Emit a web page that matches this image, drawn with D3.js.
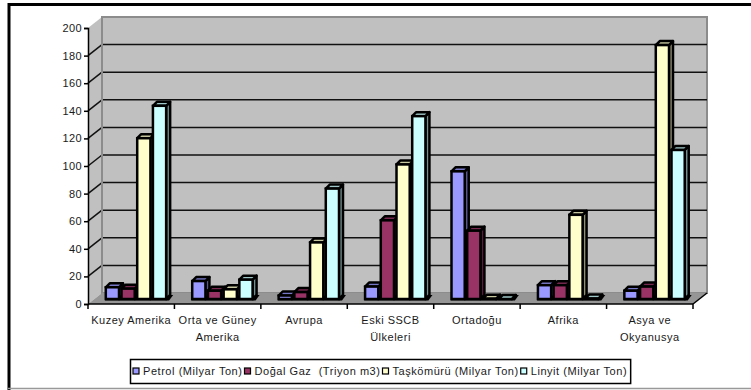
<!DOCTYPE html>
<html>
<head>
<meta charset="utf-8">
<script src="https://cdn.jsdelivr.net/npm/d3@7"></script>
<style>
  body { margin: 0; background: #fff; }
  text { font-family: "Liberation Sans", Arial, sans-serif; fill: #1a1a1a; }
</style>
</head>
<body>
<div id="chart"></div>
<script>
// categories and series
var categories = ["Kuzey Amerika", "Orta ve Güney\nAmerika", "Avrupa", "Eski SSCB\nÜlkeleri", "Ortadoğu", "Afrika", "Asya ve\nOkyanusya"];
var seriesNames = ["Petrol (Milyar Ton)", "Doğal Gaz  (Triyon m3)", "Taşkömürü (Milyar Ton)", "Linyit (Milyar Ton)"];
var petrol    = [8.5, 13, 2.5, 9, 92.5, 10, 6];
var dogalGaz  = [7.5, 6, 5, 57, 49.5, 10, 9];
var taskomuru = [116.5, 7, 41, 97.5, 0.2, 61, 184];
var linyit    = [140, 14, 80, 132.5, 0, 0.3, 108];
var yTicks = [0, 20, 40, 60, 80, 100, 120, 140, 160, 180, 200];

var colors = ["#9999FF", "#993366", "#FFFFCC", "#CCFFFF"];
var allSeries = [petrol, dogalGaz, taskomuru, linyit];

var W = 751, H = 390;
var plotL = 88, plotR = 693, baseY = 304, topY = 28;
var wdx = 14, wdy = -11;      // depth of the back wall
var bdx0 = 6, bdy0 = -5;      // where the bar fronts sit
var bdx = 4, bdy = -4;        // bar depth

var svg = d3.select("#chart").append("svg")
    .attr("width", W)
    .attr("height", H);

// frame
svg.append("line").attr("x1", 8).attr("x2", W).attr("y1", 4.5).attr("y2", 4.5)
    .attr("stroke", "#000").attr("stroke-width", 3);
svg.append("line").attr("x1", 9).attr("x2", 9).attr("y1", 3).attr("y2", H)
    .attr("stroke", "#000").attr("stroke-width", 3);
svg.append("line").attr("x1", 8).attr("x2", W).attr("y1", 388.5).attr("y2", 388.5)
    .attr("stroke", "#999").attr("stroke-width", 1.5);

var x = d3.scaleBand().domain(categories).range([plotL, plotR]);
var xs = d3.scaleBand().domain(seriesNames).range([0, x.bandwidth()])
    .paddingInner(0).paddingOuter(0.75);
var y = d3.scaleLinear().domain([0, 200]).range([baseY, topY]);

// side wall, back wall and floor
svg.append("polygon")
    .attr("points", [[plotL, baseY], [plotL, topY], [plotL + wdx, topY + wdy], [plotL + wdx, baseY + wdy]].join(" "))
    .attr("fill", "#c0c0c0");
svg.append("rect")
    .attr("x", plotL + wdx).attr("y", topY + wdy)
    .attr("width", plotR - plotL).attr("height", baseY - topY)
    .attr("fill", "#c0c0c0").attr("stroke", "#8c8c8c").attr("stroke-width", 2);
svg.append("polygon")
    .attr("points", [[plotL, baseY], [plotL + wdx, baseY + wdy], [plotR + wdx, baseY + wdy], [plotR, baseY]].join(" "))
    .attr("fill", "#969696");

// gridlines
var grid = yTicks.filter(function(d) { return d > 0 && d < 200; });
svg.selectAll(".grid").data(grid).enter().append("line")
    .attr("x1", plotL + wdx).attr("x2", plotR + wdx)
    .attr("y1", function(d) { return y(d) + wdy; })
    .attr("y2", function(d) { return y(d) + wdy; })
    .attr("stroke", "#111").attr("stroke-width", 1.5);
svg.selectAll(".sgrid").data(grid).enter().append("line")
    .attr("x1", plotL).attr("x2", plotL + wdx)
    .attr("y1", function(d) { return y(d); })
    .attr("y2", function(d) { return y(d) + wdy; })
    .attr("stroke", "#111").attr("stroke-width", 1.5);
svg.append("line")
    .attr("x1", plotL + wdx).attr("x2", plotL + wdx)
    .attr("y1", topY + wdy).attr("y2", baseY + wdy)
    .attr("stroke", "#8c8c8c").attr("stroke-width", 2);

// y axis
var yAxis = d3.axisLeft(y).tickValues(yTicks).tickSize(4).tickPadding(2);
var gy = svg.append("g").attr("transform", "translate(" + plotL + ",0)").call(yAxis);
gy.select(".domain").attr("stroke", "#000").attr("stroke-width", 1.5);
gy.selectAll(".tick line").attr("stroke", "#000").attr("stroke-width", 1.5);
gy.selectAll("text").style("font-size", "11px").style("letter-spacing", "0.4px")
    .style("font-family", "'Liberation Sans', Arial, sans-serif").attr("fill", "#1a1a1a");

// x axis
svg.append("line").attr("x1", plotL).attr("x2", plotR).attr("y1", baseY).attr("y2", baseY)
    .attr("stroke", "#000").attr("stroke-width", 1.5);
svg.append("line").attr("x1", plotR).attr("x2", plotR + wdx).attr("y1", baseY).attr("y2", baseY + wdy)
    .attr("stroke", "#000").attr("stroke-width", 1.5);
var bounds = categories.map(function(c) { return x(c); }).concat([plotR]);
svg.selectAll(".xtick").data(bounds).enter().append("line")
    .attr("x1", function(d) { return d; }).attr("x2", function(d) { return d; })
    .attr("y1", baseY).attr("y2", baseY + 5)
    .attr("stroke", "#000").attr("stroke-width", 1.5);

// bars
var barW = xs.bandwidth() - 2.5;
var bars = [];
categories.forEach(function(c, i) {
    seriesNames.forEach(function(s, j) {
        bars.push({cat: c, s: j, value: allSeries[j][i]});
    });
});

function geom(d) {
    var x0 = x(d.cat) + xs(seriesNames[d.s]) + bdx0;
    var yb = y(0) + bdy0;
    var yt = y(d.value) + bdy0;
    return {x0: x0, x1: x0 + barW, yb: yb, yt: yt};
}

// dark shadow strip on the floor under each group
svg.selectAll(".shadow").data(categories).enter().append("polygon")
    .attr("points", function(c) {
        var x0 = x(c) + xs(seriesNames[0]) + bdx0 - 1;
        var x1 = x(c) + xs(seriesNames[3]) + bdx0 + barW + bdx + 1;
        var yb = y(0) + bdy0;
        return [[x0, yb + 1.5], [x0 + bdx, yb + bdy], [x1 + 2, yb + bdy], [x1 - 2, yb + 1.5]].join(" ");
    })
    .attr("fill", "#000");

var bar = svg.selectAll(".bar").data(bars).enter().append("g").attr("class", "bar");

bar.append("polygon")
    .attr("points", function(d) {
        var g = geom(d);
        return [[g.x1, g.yb], [g.x1, g.yt], [g.x1 + bdx, g.yt + bdy], [g.x1 + bdx, g.yb + bdy]].join(" ");
    })
    .attr("fill", function(d) { return d3.color(colors[d.s]).darker(1.6); })
    .attr("stroke", "#000").attr("stroke-width", 2.5).attr("stroke-linejoin", "round");

bar.append("polygon")
    .attr("points", function(d) {
        var g = geom(d);
        return [[g.x0, g.yt], [g.x0 + bdx, g.yt + bdy], [g.x1 + bdx, g.yt + bdy], [g.x1, g.yt]].join(" ");
    })
    .attr("fill", function(d) { return d3.color(colors[d.s]).darker(0.7); })
    .attr("stroke", "#000").attr("stroke-width", 2.5).attr("stroke-linejoin", "round");

bar.append("rect")
    .attr("x", function(d) { return geom(d).x0; })
    .attr("y", function(d) { return geom(d).yt; })
    .attr("width", barW)
    .attr("height", function(d) { var g = geom(d); return g.yb - g.yt; })
    .attr("fill", function(d) { return colors[d.s]; })
    .attr("stroke", "#000").attr("stroke-width", 2.5);

// category labels
var lab = svg.selectAll(".clab").data(categories).enter().append("text")
    .attr("text-anchor", "middle")
    .style("font-size", "11px").style("letter-spacing", "0.5px")
    .attr("x", function(d) { return x(d) + x.bandwidth() / 2; })
    .attr("y", 324);
lab.selectAll("tspan").data(function(d) { return d.split("\n"); }).enter().append("tspan")
    .attr("x", function() { var p = d3.select(this.parentNode).datum(); return x(p) + x.bandwidth() / 2; })
    .attr("dy", function(d, i) { return i === 0 ? 0 : 17; })
    .text(function(d) { return d; });

// legend
var lg = svg.append("g");
var lx = 133;
seriesNames.forEach(function(s, i) {
    var it = lg.append("g");
    it.append("rect").attr("x", lx).attr("y", 368).attr("width", 6).attr("height", 6)
        .attr("fill", colors[i]).attr("stroke", "#000").attr("stroke-width", 1.2);
    var t = it.append("text").attr("x", lx + 10).attr("y", 375)
        .style("font-size", "11px").style("letter-spacing", "0.55px")
        .attr("xml:space", "preserve").text(s);
    lx += 10 + t.node().getComputedTextLength() + 2;
});
lg.insert("rect", ":first-child")
    .attr("x", 130.5).attr("y", 359.5)
    .attr("width", lx - 130 + 1).attr("height", 24)
    .attr("fill", "#fff").attr("stroke", "#000").attr("stroke-width", 1.5);
</script>
</body>
</html>
